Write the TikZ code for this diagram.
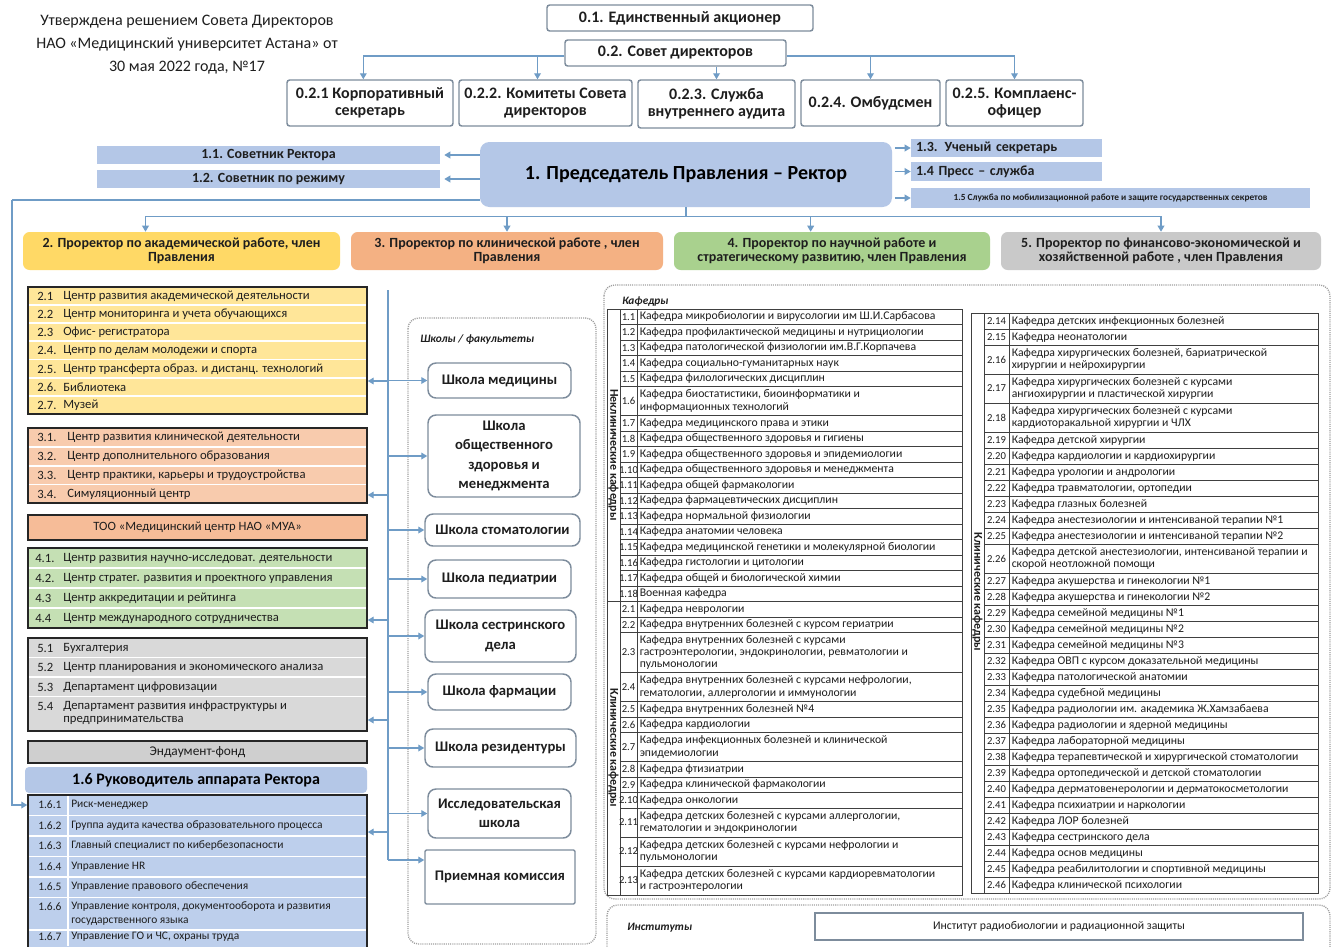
\documentclass[tikz,border=0pt]{standalone}
\usepackage{fontspec}
\setmainfont{Carlito}
\usetikzlibrary{arrows.meta,calc}
\definecolor{bluef}{HTML}{B4C7E7}
\definecolor{bluel}{HTML}{BDCFEC}
\definecolor{yelp}{HTML}{FFD966}
\definecolor{yell}{HTML}{FFE699}
\definecolor{orap}{HTML}{F4B183}
\definecolor{oral}{HTML}{F8CBAD}
\definecolor{orat}{HTML}{F6BC98}
\definecolor{grnp}{HTML}{A9D18E}
\definecolor{grnl}{HTML}{C5E0B4}
\definecolor{gryp}{HTML}{C9C9C9}
\definecolor{gryl}{HTML}{D9D9D9}
\definecolor{gryd}{HTML}{CFCFCF}
\definecolor{conn}{HTML}{6F9CC6}
\definecolor{bord}{HTML}{7D8C9C}
\definecolor{txt}{HTML}{1E1E1E}
\newcount\kc
\newcommand\BX[7]{\node[#6,minimum width={(#4-#2)*0.75pt},minimum height={(#5-#3)*0.75pt}] (#1) at ({(#2+#4)/2},{(#3+#5)/2}) {#7};}
\newcommand\KR[3]{%
 \global\advance\kc by 1\relax
 \pgfmathsetmacro\kyb{\kya+#2}%
 \draw[tabl] (\kxb,\kya) rectangle (\kxd,\kyb);
 \draw[tabl] (\kxc,\kya) -- (\kxc,\kyb);
 \node[knum] (kn\the\kc) at ({(\kxb+\kxc)/2},{(\kya+\kyb)/2}) {#1};
 \node[ktxt] (kt\the\kc) at ({\kxc+2.5},{(\kya+\kyb)/2}) {#3};
 \global\let\kya\kyb}
\newcommand\LI[4]{\node[litem] (#1n) at (\lnx,#2) {#3}; \node[litem] (#1t) at (\ltx,#2) {#4};}
\tikzset{
 arr/.style={draw=conn, line width=1pt, -{Triangle[width=5pt,length=4.5pt]}},
 ln/.style={draw=conn, line width=1pt},
 topbox/.style={draw=bord, line width=1.1pt, fill=white, rounded corners=2pt, font=\bfseries\fontsize{12}{12.5}\selectfont, align=center, inner sep=0pt, text=txt},
 bluebox/.style={fill=bluef, inner sep=0pt, font=\bfseries\fontsize{10.5}{11}\selectfont, text=txt},
 rectbox/.style={fill=bluef, rounded corners=7pt, inner sep=0pt, font=\bfseries\fontsize{15}{16}\selectfont, text=black},
 pbox/.style={rounded corners=5pt, inner sep=0pt, align=center, font=\bfseries\fontsize{10.5}{10.5}\selectfont, text=txt},
 lbox/.style={draw=black!85, line width=1.1pt, inner sep=0pt},
 sep/.style={draw=white, line width=1.1pt},
 litem/.style={anchor=west, inner sep=0pt, align=left, font=\fontsize{9.5}{9.5}\selectfont, text=txt},
 sbox/.style={draw=bord, line width=1.1pt, fill=white, rounded corners=6pt, inner sep=0pt, align=center, font=\bfseries\fontsize{11}{14.5}\selectfont, text=txt},
 dframe/.style={draw=gray!75, line width=1pt, dash pattern=on 0.8pt off 0.8pt, rounded corners=8pt},
 flabel/.style={anchor=west, inner sep=0pt, font=\bfseries\itshape\fontsize{8.5}{9}\selectfont, text=txt},
 tabl/.style={draw=black!75, line width=0.6pt},
 knum/.style={inner sep=0pt, font=\fontsize{8}{8}\selectfont, text=txt},
 ktxt/.style={anchor=west, inner sep=0pt, align=left, font=\fontsize{8.8}{9.2}\selectfont, text=txt},
 vlab/.style={rotate=-90, inner sep=0pt, font=\bfseries\fontsize{9}{9}\selectfont, text=txt},
}
\begin{document}
\begin{tikzpicture}[x=0.75pt,y=-0.75pt]
\fill[white] (0,0) rectangle (1334,946);
\useasboundingbox (0,0) rectangle (1334,946);

% title
\node[align=center, inner sep=0pt, font=\fontsize{12}{17.3}\selectfont, text=txt] (title) at (187,45) {Утверждена решением Совета Директоров\\НАО «Медицинский университет Астана» от\\30 мая 2022 года, №17};

% governance
\BX{b01}{547}{5}{813}{31}{topbox}{0.1. Единственный акционер}
\BX{b02}{565}{40}{786}{66}{topbox}{0.2. Совет директоров}
\BX{b021}{287}{80}{453}{126}{topbox}{0.2.1 Корпоративный\\секретарь}
\BX{b022}{459}{80}{632}{126}{topbox}{0.2.2. Комитеты Совета\\директоров}
\BX{b023}{638}{80}{795}{128}{topbox}{0.2.3. Служба\\внутреннего аудита}
\BX{b024}{801}{80}{940}{126}{topbox}{0.2.4. Омбудсмен}
\BX{b025}{946}{80}{1083}{126}{topbox}{0.2.5. Комплаенс-\\офицер}
\coordinate (h56) at (0,56);
\draw[arr] (b02.west |- h56) -| ([xshift=-5pt]b021.north);
\draw[arr] (b02.west |- h56) -| ([xshift=-6pt]b022.north);
\draw[arr] (b02.south -| b023.north) -- (b023.north);
\draw[arr] (b02.east |- h56) -| (b024.north);
\draw[arr] (b02.east |- h56) -| (b025.north);

% rector row
\BX{rector}{480}{142}{892}{207}{rectbox}{1. Председатель Правления – Ректор}
\BX{b11}{97}{146}{440}{164}{bluebox}{1.1. Советник Ректора}
\BX{b12}{97}{170}{440}{188}{bluebox}{1.2. Советник по режиму}
\BX{b13}{911}{139}{1102}{157}{bluebox,text width={181*0.75pt},align=left}{1.3. Ученый секретарь}
\BX{b14}{911}{162}{1102}{181}{bluebox,text width={181*0.75pt},align=left}{1.4 Пресс – служба}
\BX{b15}{911}{188}{1310}{208}{bluebox,font=\bfseries\fontsize{7}{7}\selectfont}{1.5 Служба по мобилизационной работе и защите государственных секретов}
\draw[arr] (rector.west |- b11) -- ([xshift=3pt]b11.east);
\draw[arr] (rector.west |- b12) -- ([xshift=3pt]b12.east);
\draw[arr] ([xshift=2pt]rector.east |- b13) -- (b13.west);
\draw[arr] ([xshift=2pt]rector.east |- b14) -- (b14.west);
\draw[arr] ([xshift=2pt]rector.east |- b15) -- (b15.west);

% prorectors
\BX{p2}{23}{232}{340}{270}{pbox,fill=yelp}{2. Проректор по академической работе, член\\Правления}
\BX{p3}{351}{232}{663}{270}{pbox,fill=orap}{3. Проректор по клинической работе , член\\Правления}
\BX{p4}{674}{232}{990}{270}{pbox,fill=grnp}{4. Проректор по научной работе и\\стратегическому развитию, член Правления}
\BX{p5}{1001}{232}{1321}{270}{pbox,fill=gryp}{5. Проректор по финансово-экономической и\\хозяйственной работе , член Правления}
\path (rector.south) ++(0,9) coordinate (bus);
\draw[ln] (rector.south) -- (bus);
\draw[arr] (bus) -| ([xshift=-27pt]p2.north);
\draw[arr] (bus) -| (p3.north);
\draw[arr] (bus) -| ([xshift=-16pt]p4.north);
\draw[arr] (bus) -| (p5.north);

% left column lists
\BX{l2}{28}{287}{367}{414}{lbox,fill=yell}{}
\foreach \y in {305,323,341,359.5,378,396} \draw[sep] (29,\y) -- (366,\y);
\def\lnx{37}\def\ltx{63}
\LI{a1}{296}{2.1}{Центр развития академической деятельности}
\LI{a2}{314}{2.2}{Центр мониторинга и учета обучающихся}
\LI{a3}{332}{2.3}{Офис- регистратора}
\LI{a4}{350}{2.4.}{Центр по делам молодежи и спорта}
\LI{a5}{369}{2.5.}{Центр трансферта образ. и дистанц. технологий}
\LI{a6}{387}{2.6.}{Библиотека}
\LI{a7}{405}{2.7.}{Музей}

\BX{l3}{28}{428}{367}{503}{lbox,fill=oral}{}
\foreach \y in {447,466,484.5} \draw[sep] (29,\y) -- (366,\y);
\def\ltx{67}
\LI{c1}{437.5}{3.1.}{Центр развития клинической деятельности}
\LI{c2}{456}{3.2.}{Центр дополнительного образования}
\LI{c3}{475}{3.3.}{Центр практики, карьеры и трудоустройства}
\LI{c4}{494}{3.4.}{Симуляционный центр}

\BX{too}{28}{515}{367}{540}{lbox,fill=orat,font=\fontsize{9.5}{10}\selectfont,text=txt}{ТОО «Медицинский центр НАО «МУА»}

\BX{l4}{28}{548}{367}{628}{lbox,fill=grnl}{}
\foreach \y in {568,588,608} \draw[sep] (29,\y) -- (366,\y);
\def\lnx{35}\def\ltx{63}
\LI{d1}{558}{4.1.}{Центр развития научно-исследоват. деятельности}
\LI{d2}{578}{4.2.}{Центр стратег. развития и проектного управления}
\LI{d3}{598}{4.3}{Центр аккредитации и рейтинга}
\LI{d4}{618}{4.4}{Центр международного сотрудничества}

\BX{l5}{28}{638}{367}{731}{lbox,fill=gryl}{}
\foreach \y in {657.5,677,696.5} \draw[sep] (29,\y) -- (366,\y);
\def\lnx{37}
\LI{e1}{648}{5.1}{Бухгалтерия}
\LI{e2}{667.5}{5.2}{Центр планирования и экономического анализа}
\LI{e3}{687}{5.3}{Департамент цифровизации}
\node[litem] (e4n) at (37,706) {5.4};
\node[litem] (e4t) at (63,713) {Департамент развития инфраструктуры и\\предпринимательства};

\BX{endow}{28}{741}{367}{763}{lbox,fill=gryd,font=\fontsize{10}{10}\selectfont,text=txt}{Эндаумент-фонд}
\BX{h16}{25}{767}{367}{793}{rectbox,rounded corners=3pt,font=\bfseries\fontsize{12}{12}\selectfont}{1.6 Руководитель аппарата Ректора}

\BX{l16}{28}{795}{367}{965}{lbox,fill=bluel}{}
\foreach \y in {815.5,836,856.5,877,897.5,930} \draw[sep] (29,\y) -- (366,\y);
\draw[sep,line width=0.8pt] (68,796) -- (68,946);
\tikzset{litem/.style={anchor=west, inner sep=0pt, align=left, font=\fontsize{8.6}{10.5}\selectfont, text=txt}}
\def\lnx{38}\def\ltx{71}
\LI{f1}{805}{1.6.1}{Риск-менеджер}
\LI{f2}{826}{1.6.2}{Группа аудита качества образовательного процесса}
\LI{f3}{846}{1.6.3}{Главный специалист по кибербезопасности}
\LI{f4}{867}{1.6.4}{Управление HR}
\LI{f5}{887}{1.6.5}{Управление правового обеспечения}
\node[litem] (f6n) at (38,907) {1.6.6};
\node[litem] (f6t) at (71,914) {Управление контроля, документооборота и развития\\государственного языка};
\LI{f7}{937}{1.6.7}{Управление ГО и ЧС, охраны труда}

% left feed line from rector to 1.6.x
\coordinate (lc) at (12,200);
\draw[ln] (rector.west |- lc) -- (lc);
\draw[arr] (lc) |- (l16.west |- f1n);

% schools
\draw[dframe] (408,318) rectangle (596,944);
\node[flabel] (schl) at (420,340) {Школы / факультеты};
\BX{s1}{428}{363}{571}{398}{sbox}{Школа медицины}
\BX{s2}{428}{415}{580}{497}{sbox,font=\bfseries\fontsize{11}{14.6}\selectfont}{Школа\\общественного\\здоровья и\\менеджмента}
\BX{s3}{425}{514}{580}{546}{sbox}{Школа стоматологии}
\BX{s4}{428}{560}{571}{598}{sbox}{Школа педиатрии}
\BX{s5}{425}{610}{576}{662}{sbox}{Школа сестринского\\дела}
\BX{s6}{428}{674}{571}{710}{sbox}{Школа фармации}
\BX{s7}{425}{729}{576}{767}{sbox}{Школа резидентуры}
\BX{s8}{428}{789}{571}{838}{sbox}{Исследовательская\\школа}
\BX{s9}{425}{850}{575}{904}{sbox,rounded corners=1pt}{Приемная комиссия}

% trunk
\coordinate (trt) at (388,290);
\coordinate (trb) at (388,860);
\draw[ln] (trt) -- (trb);
\draw[arr] (trt |- s1.west) -- (s1.west);
\draw[arr] (trt |- s2.west) -- (s2.west);
\draw[arr] (trt |- s3.west) -- (s3.west);
\draw[arr] (trt |- s4.west) -- (s4.west);
\draw[arr] (trt |- s5.west) -- (s5.west);
\draw[arr] (trt |- s6.west) -- (s6.west);
\draw[arr] (trt |- s7.west) -- (s7.west);
\draw[arr] (trt |- s8.west) -- (s8.west);
\draw[arr] (trb) -- (s9.west |- trb);
\coordinate (q2) at (388,381);
\coordinate (q3) at (388,495);
\coordinate (q4) at (388,620);
\coordinate (q5) at (388,720);
\coordinate (q6) at (388,832);
\draw[arr] (q2) -- (l2.east |- q2);
\draw[arr] (q3) -- (l3.east |- q3);
\draw[arr] (q4) -- (l4.east |- q4);
\draw[arr] (q5) -- (l5.east |- q5);
\draw[arr] (q6) -- (l16.east |- q6);

% departments frame
\draw[dframe] (604,285) rectangle (1330,899);
\node[flabel] (kafl) at (622,302) {Кафедры};

% left table
\gdef\kya{309}\def\kxa{607}\def\kxb{620}\def\kxc{637}\def\kxd{962}
\draw[tabl] (607,309) rectangle (620,601.5);
\draw[tabl] (607,601.5) rectangle (620,895);
\node[vlab] (vl1) at (613.5,455) {Неклинические кафедры};
\node[vlab] (vl2) at (613.5,748) {Клинические кафедры};
\KR{1.1}{15.5}{Кафедра микробиологии и вирусологии им Ш.И.Сарбасова}
\KR{1.2}{15.5}{Кафедра профилактической медицины и нутрициологии}
\KR{1.3}{15.5}{Кафедра патологической физиологии им.В.Г.Корпачева}
\KR{1.4}{15.5}{Кафедра социально-гуманитарных наук}
\KR{1.5}{15.5}{Кафедра филологических дисциплин}
\KR{1.6}{29}{Кафедра биостатистики, биоинформатики и\\информационных технологий}
\KR{1.7}{15.5}{Кафедра медицинского права и этики}
\KR{1.8}{15.5}{Кафедра общественного здоровья и гигиены}
\KR{1.9}{15.5}{Кафедра общественного здоровья и эпидемиологии}
\KR{1.10}{15.5}{Кафедра общественного здоровья и менеджмента}
\KR{1.11}{15.5}{Кафедра общей фармакологии}
\KR{1.12}{15.5}{Кафедра фармацевтических дисциплин}
\KR{1.13}{15.5}{Кафедра нормальной физиологии}
\KR{1.14}{15.5}{Кафедра анатомии человека}
\KR{1.15}{15.5}{Кафедра медицинской генетики и молекулярной биологии}
\KR{1.16}{15.5}{Кафедра гистологии и цитологии}
\KR{1.17}{15.5}{Кафедра общей и биологической химии}
\KR{1.18}{15.5}{Военная кафедра}
\KR{2.1}{15.5}{Кафедра неврологии}
\KR{2.2}{15.5}{Кафедра внутренних болезней с курсом гериатрии}
\KR{2.3}{40}{Кафедра внутренних болезней  с курсами\\гастроэнтерологии, эндокринологии, ревматологии и\\пульмонологии}
\KR{2.4}{29}{Кафедра внутренних болезней с курсами нефрологии,\\гематологии, аллергологии и иммунологии}
\KR{2.5}{15.5}{Кафедра внутренних болезней №4}
\KR{2.6}{15.5}{Кафедра кардиологии}
\KR{2.7}{29}{Кафедра инфекционных болезней и клинической\\эпидемиологии}
\KR{2.8}{15.5}{Кафедра фтизиатрии}
\KR{2.9}{15.5}{Кафедра клинической фармакологии}
\KR{2.10}{15.5}{Кафедра онкологии}
\KR{2.11}{29}{Кафедра детских болезней с курсами аллергологии,\\гематологии и эндокринологии}
\KR{2.12}{29}{Кафедра детских болезней с курсами нефрологии и\\пульмонологии}
\KR{2.13}{29}{Кафедра детских болезней с курсами кардиоревматологии\\и гастроэнтерологии}

% right table
\gdef\kya{313}\def\kxa{971}\def\kxb{984}\def\kxc{1009}\def\kxd{1318}
\draw[tabl] (971,313) rectangle (984,893);
\node[vlab] (vl3) at (977.5,592) {Клинические кафедры};
\KR{2.14}{16}{Кафедра детских инфекционных болезней}
\KR{2.15}{16}{Кафедра неонатологии}
\KR{2.16}{29}{Кафедра хирургических болезней, бариатрической\\хирургии и нейрохирургии}
\KR{2.17}{29}{Кафедра хирургических болезней с курсами\\ангиохирургии и пластической хирургии}
\KR{2.18}{29}{Кафедра хирургических болезней с курсами\\кардиоторакальной хирургии и ЧЛХ}
\KR{2.19}{16}{Кафедра детской хирургии}
\KR{2.20}{16}{Кафедра кардиологии и кардиохирургии}
\KR{2.21}{16}{Кафедра урологии и андрологии}
\KR{2.22}{16}{Кафедра травматологии, ортопедии}
\KR{2.23}{16}{Кафедра глазных болезней}
\KR{2.24}{16}{Кафедра анестезиологии и интенсиваной терапии №1}
\KR{2.25}{16}{Кафедра анестезиологии и интенсиваной терапии №2}
\KR{2.26}{29}{Кафедра детской анестезиологии, интенсиваной терапии и\\скорой неотложной помощи}
\KR{2.27}{16}{Кафедра акушерства и гинекологии №1}
\KR{2.28}{16}{Кафедра акушерства и гинекологии №2}
\KR{2.29}{16}{Кафедра семейной медицины №1}
\KR{2.30}{16}{Кафедра семейной медицины №2}
\KR{2.31}{16}{Кафедра семейной медицины №3}
\KR{2.32}{16}{Кафедра ОВП с курсом доказательной медицины}
\KR{2.33}{16}{Кафедра патологической анатомии}
\KR{2.34}{16}{Кафедра судебной медицины}
\KR{2.35}{16}{Кафедра радиологии им. академика Ж.Хамзабаева}
\KR{2.36}{16}{Кафедра радиологии и ядерной медицины}
\KR{2.37}{16}{Кафедра лабораторной медицины}
\KR{2.38}{16}{Кафедра терапевтической и хирургической стоматологии}
\KR{2.39}{16}{Кафедра ортопедической и детской стоматологии}
\KR{2.40}{16}{Кафедра дерматовенерологии и дерматокосметологии}
\KR{2.41}{16}{Кафедра психиатрии и наркологии}
\KR{2.42}{16}{Кафедра ЛОР болезней}
\KR{2.43}{16}{Кафедра сестринского дела}
\KR{2.44}{16}{Кафедра основ медицины}
\KR{2.45}{16}{Кафедра реабилитологии и спортивной медицины}
\KR{2.46}{16}{Кафедра клинической психологии}

% institutes
\draw[dframe] (607,905) rectangle (1330,965);
\node[flabel] (instl) at (627,928) {Институты};
\BX{inst}{815}{913}{1303}{940}{draw=bord, line width=1pt, inner sep=0pt, font=\fontsize{8.8}{9}\selectfont, text=txt}{Институт радиобиологии и радиационной защиты}
\end{tikzpicture}
\end{document}
